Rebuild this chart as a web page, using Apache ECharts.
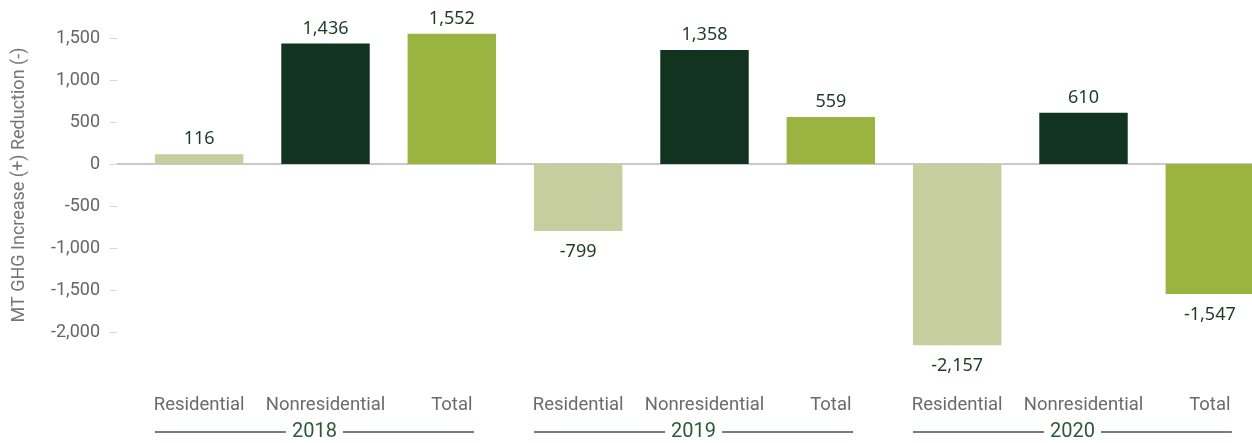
<!DOCTYPE html>
<html>
<head>
<meta charset="utf-8">
<script src="https://cdn.jsdelivr.net/npm/echarts@6/dist/echarts.min.js"></script>
<style>
  html, body { margin: 0; padding: 0; background: #fff; }
  #chart { width: 1252px; height: 443px; }
</style>
</head>
<body>
<div id="chart"></div>
<script>
// Sector categories, repeated for each year
const categories = ['Residential', 'Nonresidential', 'Total',
                    'Residential', 'Nonresidential', 'Total',
                    'Residential', 'Nonresidential', 'Total'];
const years = ['2018', '2019', '2020'];
// MT GHG change per sector and year
const values = [116, 1436, 1552, -799, 1358, 559, -2157, 610, -1547];
const sectorColors = { Residential: '#c6cd9e', Nonresidential: '#12331f', Total: '#9ab341' };
const yTicks = { min: -2000, max: 1500, interval: 500 };

const GRID_LEFT = 136, AXIS_OFFSET = 19;
const fmt = v => v.toLocaleString('en-US');

const chart = echarts.init(document.getElementById('chart'), null, { renderer: 'canvas' });

const option = {
  animation: false,
  textStyle: { fontFamily: 'Roboto, sans-serif' },
  // plotting area runs past the right edge of the canvas
  grid: {
    left: GRID_LEFT, width: 1137, top: 38, bottom: 111,
    containLabel: false, outerBoundsMode: 'none'
  },
  xAxis: [
    {
      type: 'category', data: categories,
      axisLine: { show: true, onZero: true, lineStyle: { color: '#c9c9cc', width: 2 } },
      axisTick: { show: false }, axisLabel: { show: false }
    },
    {
      type: 'category', data: categories, position: 'bottom',
      axisLine: { show: false, onZero: false }, axisTick: { show: false },
      axisLabel: { margin: 64, fontSize: 18.5, color: '#6b6b6b', interval: 0 }
    },
    {
      type: 'category', data: years, position: 'bottom',
      axisLine: { show: false, onZero: false }, axisTick: { show: false },
      axisLabel: {
        margin: 90, interval: 0,
        formatter: y => '{ln|}{yr|' + y + '}{ln|}{sp|}',
        rich: {
          ln: { width: 131, height: 1.4, backgroundColor: '#3e5a49' },
          yr: { fontSize: 20, color: '#2b5a3b', padding: [0, 6, 0, 6] },
          sp: { width: 22 }
        }
      }
    }
  ],
  yAxis: {
    type: 'value', min: yTicks.min, max: yTicks.max, interval: yTicks.interval,
    offset: AXIS_OFFSET,
    name: 'MT GHG Increase (+) Reduction (-)',
    nameLocation: 'middle', nameGap: 89,
    nameTextStyle: { fontSize: 18, color: '#777' },
    axisLine: { show: false },
    axisTick: { show: true, length: 7, lineStyle: { color: '#d6d6d6' } },
    axisLabel: { margin: 17, fontSize: 18, color: '#666', formatter: fmt },
    splitLine: { show: false }
  },
  series: [{
    type: 'bar',
    xAxisIndex: 0,
    clip: false,
    barWidth: '70%',
    data: values.map((v, i) => ({
      value: v,
      itemStyle: { color: sectorColors[categories[i]] },
      label: v >= 0 ? { position: 'top', distance: 6 } : { position: 'bottom', distance: 12 }
    })),
    label: {
      show: true, fontSize: 18, color: '#1d3b27',
      fontFamily: '"Noto Sans", sans-serif',
      formatter: p => fmt(p.value)
    }
  }]
};

chart.setOption(option);

// Extend the zero line from the value axis over to the plotting area
const zeroY = chart.convertToPixel({ yAxisIndex: 0 }, 0);
chart.setOption({
  graphic: [{
    type: 'line', silent: true,
    shape: { x1: GRID_LEFT - AXIS_OFFSET, y1: zeroY, x2: GRID_LEFT, y2: zeroY },
    style: { stroke: '#c9c9cc', lineWidth: 2 }
  }]
});
</script>
</body>
</html>
